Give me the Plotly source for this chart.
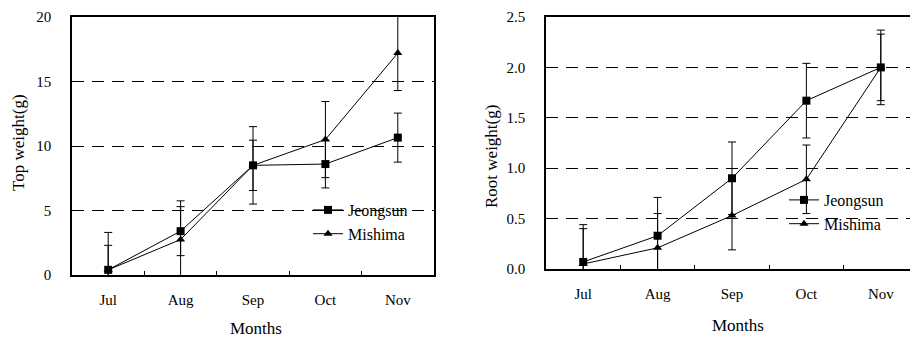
import plotly.graph_objects as go

months = ["Jul", "Aug", "Sep", "Oct", "Nov"]
top_jeongsun = [0.4, 3.4, 8.5, 8.6, 10.65]
top_jeongsun_err = [2.9, 1.9, 1.95, 1.85, 1.9]
top_mishima = [0.4, 2.75, 8.5, 10.5, 17.2]
top_mishima_err = [1.9, 3.0, 3.0, 2.95, 2.9]
root_jeongsun = [0.07, 0.33, 0.90, 1.67, 2.0]
root_jeongsun_err = [0.37, 0.38, 0.36, 0.37, 0.37]
root_mishima = [0.05, 0.21, 0.53, 0.89, 2.0]
root_mishima_err = [0.35, 0.34, 0.34, 0.34, 0.33]

FONT = "Liberation Serif, Times New Roman, serif"
OFF = 8  # default page body margin
W, H = 918 - OFF, 337 - OFF


def px(x):
    return (x - OFF) / W


def py(y):
    return 1 - (y - OFF) / H


def series(x, y, err, name, symbol, xa, ya, legend, group):
    return go.Scatter(
        x=x, y=y, name=name, mode="lines+markers",
        xaxis=xa, yaxis=ya, legend=legend, legendgroup=group,
        line=dict(color="black", width=1),
        marker=dict(symbol=symbol, size=8, color="black"),
        error_y=dict(type="data", array=err, visible=True, color="black",
                     thickness=1, width=4),
    )


fig = go.Figure()
fig.add_trace(series(months, top_jeongsun, top_jeongsun_err, "Jeongsun", "square", "x", "y", "legend", "a"))
fig.add_trace(series(months, top_mishima, top_mishima_err, "Mishima", "triangle-up", "x", "y", "legend", "b"))
fig.add_trace(series(months, root_jeongsun, root_jeongsun_err, "Jeongsun", "square", "x2", "y2", "legend2", "c"))
fig.add_trace(series(months, root_mishima, root_mishima_err, "Mishima", "triangle-up", "x2", "y2", "legend2", "d"))

tickfont = dict(family=FONT, size=15, color="black")

xcommon = dict(type="category", range=[-0.5, 4.5], showline=True, linecolor="black",
               linewidth=1.5, mirror=True, ticks="inside", tickson="boundaries",
               ticklen=4, tickcolor="black", showgrid=False, tickfont=tickfont,
               fixedrange=True, automargin=False, ticklabelstandoff=10)
ycommon = dict(showline=True, linecolor="black", linewidth=1.5, mirror=True,
               ticks="", showgrid=True, gridcolor="black", gridwidth=1,
               griddash="12px,8px", zeroline=False, tickfont=tickfont,
               ticklabelstandoff=16, automargin=False, ticklabeloverflow="allow")

legfont = dict(family=FONT, size=16, color="black")

fig.update_layout(
    width=W, height=H,
    margin=dict(l=0, r=0, t=0, b=0, autoexpand=False),
    paper_bgcolor="white", plot_bgcolor="white",
    font=dict(family=FONT, size=15, color="black"),
    xaxis=dict(domain=[px(72), px(434)], anchor="y", **xcommon),
    yaxis=dict(domain=[py(275), py(17)], anchor="x", range=[0, 20],
               tickvals=[0, 5, 10, 15, 20], **ycommon),
    xaxis2=dict(domain=[px(546), 1.0], anchor="y2", **xcommon),
    yaxis2=dict(domain=[py(269), py(17)], anchor="x2", range=[0, 2.5],
                tickvals=[0, 0.5, 1.0, 1.5, 2.0, 2.5], tickformat=".1f", **ycommon),
    legend=dict(x=px(308), y=py(193), xanchor="left", yanchor="top",
                bgcolor="rgba(0,0,0,0)", font=legfont,
                tracegroupgap=0, traceorder="grouped", itemwidth=30),
    legend2=dict(x=px(784), y=py(183), xanchor="left", yanchor="top",
                 bgcolor="rgba(0,0,0,0)", font=legfont,
                 tracegroupgap=0, traceorder="grouped", itemwidth=30),
    annotations=[
        dict(text="Top weight(g)", x=px(18), y=py(143), xref="paper", yref="paper",
             xanchor="center", yanchor="middle",
             showarrow=False, textangle=-90, font=dict(family=FONT, size=17)),
        dict(text="Months", x=px(256), y=py(328), xref="paper", yref="paper",
             xanchor="center", yanchor="middle",
             showarrow=False, font=dict(family=FONT, size=17)),
        dict(text="Root weight(g)", x=px(491), y=py(157), xref="paper", yref="paper",
             xanchor="center", yanchor="middle",
             showarrow=False, textangle=-90, font=dict(family=FONT, size=17)),
        dict(text="Months", x=px(738), y=py(325), xref="paper", yref="paper",
             xanchor="center", yanchor="middle",
             showarrow=False, font=dict(family=FONT, size=17)),
    ],
)

fig.write_html("out.html")
